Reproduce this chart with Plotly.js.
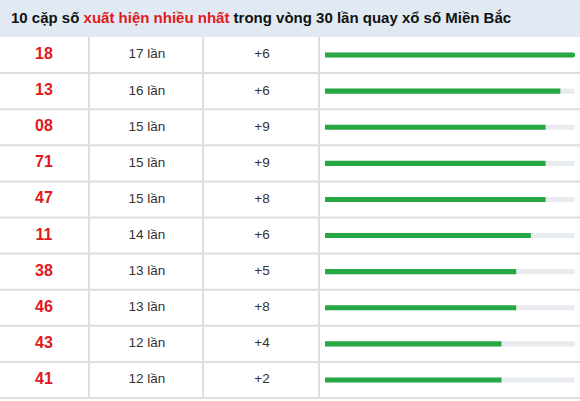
<!DOCTYPE html>
<html>
<head>
<meta charset="utf-8">
<script src="https://cdn.plot.ly/plotly-3.0.1.min.js"></script>
<style>html,body{margin:0;padding:0;background:#fff;}#chart{width:580px;height:401px;}</style>
</head>
<body>
<div id="chart"></div>
<script>
// ---- data ----
const pairNumbers = ['18','13','08','71','47','11','38','46','43','41'];
const counts = [17,16,15,15,15,14,13,13,12,12];
const deltas = [6,6,9,9,8,6,5,8,4,2];
const countSuffix = ' lần';
const titleBefore = '10 cặp số ';
const titleHighlight = 'xuất hiện nhiều nhất';
const titleAfter = ' trong vòng 30 lần quay xổ số Miền Bắc';

// ---- layout constants ----
const W = 580, H = 401;
const headerH = 37;
const rowH = 36.1;
const nRows = pairNumbers.length;
const plotH = H - headerH;
const colDividers = [89, 203, 319];
const colCenters = [44, 147, 262];
const barX0 = 325, barX1 = 575;
const maxCount = Math.max(...counts);
const idx = pairNumbers.map((_, i) => i);
const FONT = 'Arial, "Liberation Sans", sans-serif';
const RED = '#e2181c';
const GRID = '#dedede';

const traces = [
  { type:'scatter', mode:'text', x: idx.map(() => colCenters[0]), y: idx, text: pairNumbers,
    textfont:{family:FONT, size:16, color:RED, weight:'bold'}, xaxis:'x', yaxis:'y', hoverinfo:'skip', cliponaxis:false },
  { type:'scatter', mode:'text', x: idx.map(() => colCenters[1]), y: idx, text: counts.map(c => c + countSuffix),
    textfont:{family:FONT, size:13.5, color:'#333'}, xaxis:'x', yaxis:'y', hoverinfo:'skip', cliponaxis:false },
  { type:'scatter', mode:'text', x: idx.map(() => colCenters[2]), y: idx, text: deltas.map(d => (d >= 0 ? '+' : '') + d),
    textfont:{family:FONT, size:13.5, color:'#333'}, xaxis:'x', yaxis:'y', hoverinfo:'skip', cliponaxis:false },
  { type:'bar', orientation:'h', x: counts.map(() => maxCount), y: idx, width:0.14,
    marker:{color:'#e9ecef', cornerradius:3}, xaxis:'x2', yaxis:'y', hoverinfo:'skip' },
  { type:'bar', orientation:'h', x: counts, y: idx, width:0.14,
    marker:{color:'#28a745', cornerradius:3}, xaxis:'x2', yaxis:'y', hoverinfo:'skip' }
];

const shapes = [];
// header background
shapes.push({type:'rect', xref:'paper', yref:'paper', x0:0, x1:1, y0:1, y1:1 + headerH/plotH,
  fillcolor:'#e1eaf2', line:{width:0}, layer:'below'});
// row separators
for (let i = 1; i <= nRows; i++) {
  shapes.push({type:'line', xref:'paper', yref:'y', x0:0, x1:1, y0:i-0.5, y1:i-0.5, line:{color:GRID, width:2}});
}
// column dividers
colDividers.forEach(cx => {
  shapes.push({type:'line', xref:'x', yref:'y', x0:cx, x1:cx, y0:-0.5, y1:nRows-0.5, line:{color:GRID, width:2}});
});

const span = plotH / rowH;
const layout = {
  width: W, height: H,
  margin:{l:0, r:0, t:headerH, b:0, pad:0},
  paper_bgcolor:'#fff', plot_bgcolor:'#fff',
  showlegend:false, hovermode:false, barmode:'overlay',
  title:{
    text:'<b>' + titleBefore + '<span style="color:' + RED + '">' + titleHighlight + '</span>' + titleAfter + '</b>',
    font:{family:FONT, size:15, color:'#111'},
    x: 11/W, xanchor:'left', xref:'container',
    y: 1 - 17.5/H, yanchor:'middle', yref:'container'
  },
  xaxis:{range:[0, W], domain:[0,1], visible:false, fixedrange:true},
  xaxis2:{range:[0, maxCount], domain:[barX0/W, barX1/W], anchor:'y', visible:false, fixedrange:true},
  yaxis:{range:[span - 0.5, -0.5], visible:false, fixedrange:true},
  shapes: shapes
};

Plotly.newPlot('chart', traces, layout, {staticPlot:true, displayModeBar:false});
</script>
</body>
</html>
